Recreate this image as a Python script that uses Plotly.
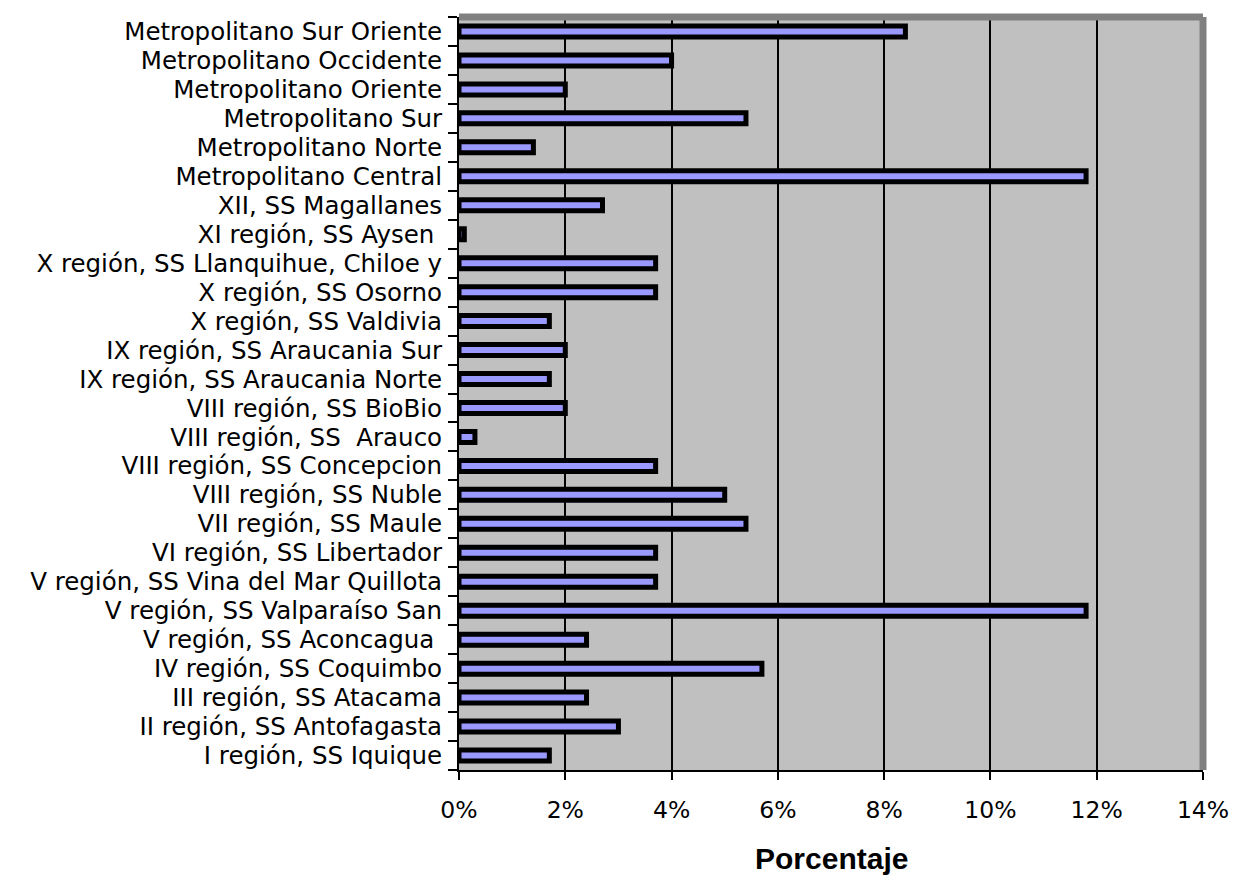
import plotly.graph_objects as go

# Servicios de Salud, listed top to bottom as displayed
servicios = [
    "Metropolitano Sur Oriente",
    "Metropolitano Occidente",
    "Metropolitano Oriente",
    "Metropolitano Sur",
    "Metropolitano Norte",
    "Metropolitano Central",
    "XII, SS Magallanes",
    "XI región, SS Aysen ",
    "X región, SS Llanquihue, Chiloe y",
    "X región, SS Osorno",
    "X región, SS Valdivia",
    "IX región, SS Araucania Sur",
    "IX región, SS Araucania Norte",
    "VIII región, SS BioBio",
    "VIII región, SS  Arauco",
    "VIII región, SS Concepcion",
    "VIII región, SS Nuble",
    "VII región, SS Maule",
    "VI región, SS Libertador",
    "V región, SS Vina del Mar Quillota",
    "V región, SS Valparaíso San",
    "V región, SS Aconcagua ",
    "IV región, SS Coquimbo",
    "III región, SS Atacama",
    "II región, SS Antofagasta",
    "I región, SS Iquique",
]

# Percentage per servicio (%)
porcentaje = [
    8.4, 4.0, 2.0, 5.4, 1.4, 11.8, 2.7, 0.1, 3.7, 3.7, 1.7, 2.0, 1.7,
    2.0, 0.3, 3.7, 5.0, 5.4, 3.7, 3.7, 11.8, 2.4, 5.7, 2.4, 3.0, 1.7,
]

x_ticks = [0, 2, 4, 6, 8, 10, 12, 14]
x_title = "Porcentaje"

FONT = "DejaVu Sans"

fig = go.Figure(
    go.Bar(
        x=porcentaje,
        y=servicios,
        orientation="h",
        width=0.38,
        marker=dict(color="#9999FF", line=dict(color="#000000", width=5)),
        hoverinfo="x+y",
    )
)

fig.update_layout(
    width=1236,
    height=880,
    margin=dict(l=459, r=33, t=17, b=110),
    paper_bgcolor="#FFFFFF",
    plot_bgcolor="#C0C0C0",
    showlegend=False,
    font=dict(family=FONT, size=23, color="#000000"),
)

fig.update_xaxes(
    range=[0, 14],
    tickvals=x_ticks,
    ticktext=[f"{v}%" for v in x_ticks],
    automargin=False,
    showgrid=True,
    gridcolor="#000000",
    gridwidth=2,
    zeroline=False,
    showline=True,
    linecolor="#000000",
    linewidth=2,
    ticks="outside",
    ticklen=8,
    tickwidth=2,
    tickcolor="#000000",
    ticklabelstandoff=10,
    tickfont=dict(family=FONT, size=23.5, color="#000000"),
    fixedrange=True,
)

fig.update_yaxes(
    autorange="reversed",
    type="category",
    tickmode="array",
    tickvals=servicios,
    ticktext=servicios,
    automargin=False,
    showgrid=False,
    zeroline=False,
    showline=True,
    linecolor="#000000",
    linewidth=2,
    ticks="outside",
    tickson="boundaries",
    ticklen=9,
    tickwidth=2,
    tickcolor="#000000",
    ticklabelstandoff=10,
    tickfont=dict(family=FONT, size=24.5, color="#000000"),
    fixedrange=True,
)

# Axis title below the tick labels
fig.add_annotation(
    text=f"<b>{x_title}</b>",
    xref="paper", yref="paper", x=0.5, y=0,
    xanchor="center", yanchor="top", yshift=-70,
    showarrow=False,
    font=dict(family="Liberation Sans", size=30, color="#000000"),
)

# Raised frame along the top and right edges of the plotting area
fig.add_shape(type="line", xref="paper", yref="paper", x0=0, x1=1, y0=1, y1=1,
              line=dict(color="#808080", width=7), layer="above")
fig.add_shape(type="line", xref="paper", yref="paper", x0=1, x1=1, y0=0, y1=1,
              line=dict(color="#808080", width=7), layer="above")

fig.write_html("out.html")
